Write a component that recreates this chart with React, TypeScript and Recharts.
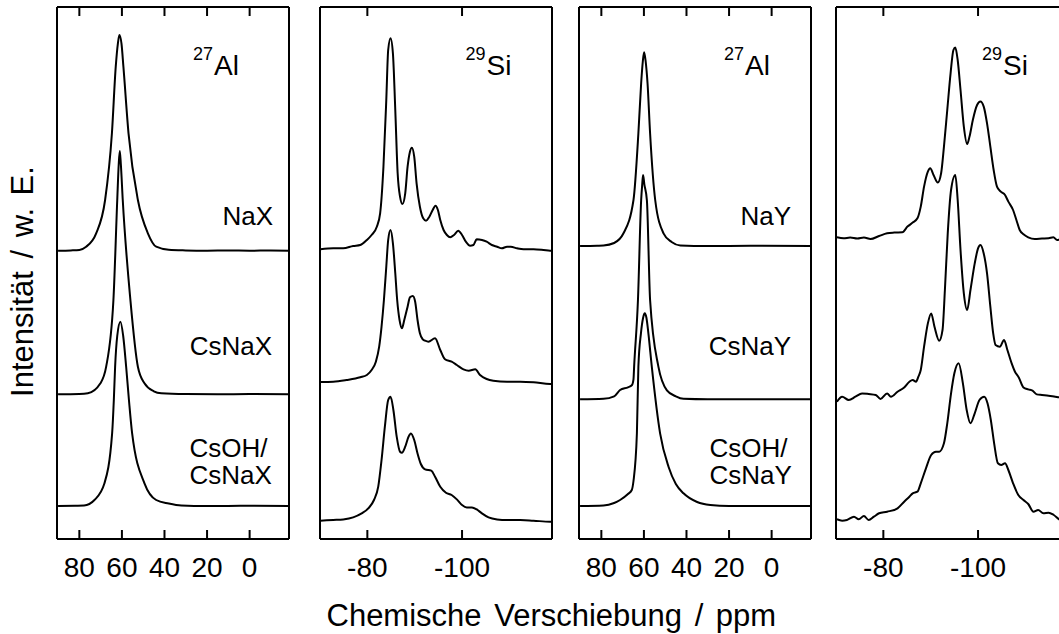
import { LineChart, Line, XAxis, YAxis } from "recharts"

type Pt = [number, number]

// [ppm, intensity above the trace's own baseline]

// 27Al, zeolite X series
const alNaX: Pt[] = [
  [90, 0], [84, 0.3], [80, 0.8], [76.8, 4], [72.1, 17.4], [67.9, 50.7], [64.7, 117.4], [62.9, 184],
  [61.9, 207], [61.2, 215.7], [60.2, 207], [59.3, 184], [56.9, 117.4], [52.5, 50.7], [47.8, 17.4],
  [43.9, 4], [38, 1], [30, 0.3], [20, 0], [10, 0.3], [0, 0], [-10, 0.2], [-19, 0],
]
const alCsNaX: Pt[] = [
  [90, 0], [80, 0.3], [76, 1], [70.1, 11], [67.4, 27.6], [64.0, 94], [62.2, 194], [61.5, 230],
  [61.0, 243.3], [60.5, 230], [59.6, 194], [56.0, 94], [52.5, 27.6], [49.4, 11], [45, 3], [41.5, 1],
  [30, 0.2], [15, 0], [0, 0.3], [-19, 0],
]
const alCsOHCsNaX: Pt[] = [
  [90, 0], [82, 0.3], [77.8, 0.5], [72.9, 6], [68.2, 22.7], [64.6, 72.7], [63.8, 106], [63.2, 139],
  [62.2, 170], [60.7, 184.3], [59.4, 170], [58.0, 139], [56.7, 106], [55.2, 72.7], [49.4, 22.7],
  [43.9, 6], [38, 2.5], [32.1, 0.5], [20, 0], [0, 0.2], [-19, 0],
]

// 29Si, zeolite X series
const siNaX: Pt[] = [
  [-70.1, 0.7], [-72.8, 1.7], [-74.9, 1.7], [-77.0, 4], [-78.5, 5], [-79.9, 10], [-80.9, 15],
  [-82.0, 23.3], [-82.7, 36.7], [-83.4, 83.3], [-84.0, 150], [-84.4, 200], [-84.9, 211.7],
  [-85.4, 196.7], [-85.9, 140], [-86.4, 76.7], [-86.9, 53.3], [-87.4, 46], [-88.0, 56.7],
  [-88.5, 83.3], [-89.0, 98.3], [-89.4, 102.3], [-89.9, 93.3], [-90.4, 66.7], [-91.1, 43.3],
  [-91.8, 31.7], [-92.4, 29.3], [-93.1, 33.3], [-93.8, 40], [-94.4, 44.3], [-94.9, 40], [-95.4, 30],
  [-96.1, 20], [-96.8, 15], [-97.5, 12.7], [-98.3, 15], [-99.2, 19.3], [-100.0, 15], [-100.8, 8.3],
  [-101.7, 4.3], [-102.4, 5], [-103.1, 10.7], [-104.2, 10], [-105.2, 8.3], [-106.3, 5], [-107.4, 3.3],
  [-108.4, 1.7], [-109.5, 3.3], [-110.3, 3.3], [-111.6, 1.7], [-113.0, 0.7], [-115.1, 0.7],
  [-117.2, 0], [-118.6, -0.7], [-119.5, -0.5],
]
const siCsNaX: Pt[] = [
  [-70.1, 0], [-72.8, 0.3], [-75.6, 2], [-78.5, 4.7], [-79.9, 7], [-80.9, 12], [-81.8, 20.3],
  [-82.5, 35.3], [-83.0, 55.3], [-83.5, 82], [-84.0, 115.3], [-84.4, 142], [-84.9, 152],
  [-85.4, 138.7], [-85.9, 108.7], [-86.3, 82], [-86.8, 62], [-87.3, 53.7], [-87.8, 62], [-88.5, 75.3],
  [-89.0, 84.7], [-89.6, 86], [-90.1, 80.3], [-90.6, 62], [-91.1, 48.7], [-91.7, 42.7], [-92.2, 41.3],
  [-92.9, 40.3], [-94.3, 43.7], [-95.4, 32], [-96.4, 22.7], [-97.8, 20.3], [-98.9, 17], [-100.3, 12.7],
  [-101.4, 11.3], [-102.8, 12.7], [-103.8, 7], [-105.2, 3], [-106.6, 1.3], [-109.5, 0.3],
  [-112.3, 0.3], [-115.1, -0.3], [-118.6, -2], [-119.5, -2],
]
const siCsOHCsNaX: Pt[] = [
  [-70.1, 0], [-72.8, 0.7], [-74.9, 1.3], [-77.0, 3.3], [-78.8, 7.3], [-80.2, 12.3], [-81.4, 20.7],
  [-82.3, 34], [-83.0, 60.7], [-83.7, 94], [-84.4, 120.7], [-84.9, 124], [-85.5, 110.7], [-86.2, 84],
  [-86.9, 69], [-87.3, 68], [-88.0, 74], [-88.7, 84], [-89.2, 87.3], [-89.9, 80.7], [-90.6, 67.3],
  [-91.3, 56.7], [-92.2, 51.3], [-93.5, 50], [-94.3, 44], [-95.4, 34], [-96.6, 28], [-97.8, 25.7],
  [-98.9, 21.3], [-100.0, 15.7], [-101.0, 13.3], [-102.1, 13.3], [-103.1, 11.3], [-104.2, 7.3],
  [-105.6, 3.3], [-107.4, 1.3], [-109.5, 0.7], [-112.3, 0.7], [-115.1, 0], [-118.6, -1], [-119.5, -1],
]

// 27Al, zeolite Y series
const alNaY: Pt[] = [
  [90, 0], [82, 0.3], [79, 0.5], [74, 3], [69.6, 12.7], [64.9, 46], [62.6, 112.7], [61.3, 162.7],
  [60.5, 185], [59.9, 193.7], [59.2, 185], [58.3, 162.7], [57.1, 112.7], [54.7, 46], [50.8, 12.7],
  [47, 4], [42.9, 0.5], [30, 0], [10, 0.2], [-19, 0],
]
const alCsNaY: Pt[] = [
  [90, 0], [79, 0.5], [74, 3], [71.2, 9.3], [67.5, 12], [65.7, 14], [64.9, 20], [64.6, 32.7],
  [62.8, 99.3], [61.3, 199], [60.8, 215], [60.4, 224.3], [59.8, 215], [58.6, 199], [57.1, 99.3],
  [53.2, 32.7], [49.2, 9], [45, 3], [41.4, 0.5], [30, 0], [-19, 0],
]
const alCsOHCsNaY: Pt[] = [
  [90, 0], [79, 0.5], [74, 3], [71.2, 6], [67.5, 12], [65.7, 16], [64.9, 25], [63.3, 72.7],
  [62.6, 139.3], [61.4, 172.7], [60.4, 188], [59.6, 192.7], [58.8, 188], [57.9, 172.7], [56.3, 139.3],
  [52.4, 72.7], [48.4, 39], [45, 22], [41.4, 12.7], [35, 4], [28.8, 1], [20, 0], [-19, 0],
]

// 29Si, zeolite Y series
const siNaY: Pt[] = [
  [-70.2, 1], [-71.6, 0], [-73.0, 0.7], [-74.5, -0.3], [-75.9, 0.7], [-77.3, -0.7], [-79.1, 2.3],
  [-80.8, 5], [-82.3, 5.7], [-84.0, 6], [-85.1, 11.7], [-86.2, 15.7], [-87.2, 20], [-87.9, 31.7],
  [-88.6, 51.7], [-89.4, 66.7], [-89.9, 70], [-90.6, 63.3], [-91.5, 55.7], [-92.2, 65], [-92.8, 91.7],
  [-93.5, 128.3], [-94.2, 165], [-94.8, 188.3], [-95.2, 190.7], [-95.7, 178.3], [-96.3, 148.3],
  [-97.0, 111.7], [-97.7, 94.3], [-98.2, 101.7], [-98.9, 118.3], [-99.8, 133.3], [-100.5, 136.7],
  [-101.2, 131.7], [-101.9, 115], [-102.6, 91.7], [-103.3, 68.3], [-104.0, 51.7], [-104.8, 46.7],
  [-105.7, 43.3], [-106.4, 36.7], [-107.4, 28.3], [-108.1, 18.3], [-108.8, 8.3], [-109.6, 4],
  [-110.6, 1], [-112.0, -0.7], [-113.5, -0.3], [-114.9, 0], [-115.9, 1], [-116.7, -1.7], [-117.4, -1],
  [-119.5, -0.5],
]
const siCsNaY: Pt[] = [
  [-70.2, -5], [-71.3, 0], [-72.7, -3.3], [-74.1, 0], [-75.5, 3.3], [-76.9, 2.7], [-78.4, 1.7],
  [-79.4, -2.3], [-80.8, 3.3], [-81.6, 0], [-83.0, 5], [-84.4, 9.3], [-85.5, 15], [-86.2, 16.7],
  [-86.9, 15], [-87.4, 20], [-87.9, 26.7], [-88.6, 50], [-89.4, 73.3], [-90.1, 83.3], [-90.8, 70],
  [-91.8, 56], [-92.5, 66.7], [-93.0, 106.7], [-93.6, 163.3], [-94.3, 206.7], [-95.2, 221.7],
  [-95.7, 196.7], [-96.3, 146.7], [-97.0, 103.3], [-97.7, 86.7], [-98.4, 106.7], [-99.3, 133.3],
  [-100.0, 148.3], [-100.5, 151.7], [-101.2, 143.3], [-101.9, 123.3], [-102.6, 90], [-103.2, 63.3],
  [-103.7, 51.7], [-104.6, 50], [-105.5, 56.7], [-106.2, 46.7], [-107.1, 33.3], [-107.8, 25],
  [-108.6, 19.3], [-109.6, 9.3], [-110.6, 7.3], [-111.5, 6], [-112.4, 2.3], [-113.5, 1.7],
  [-114.9, 1], [-116.3, 0], [-117.4, -0.7], [-119.5, -0.5],
]
const siCsOHCsNaY: Pt[] = [
  [-70.2, 0.7], [-71.3, -0.7], [-72.3, 0], [-73.8, 3.3], [-74.8, 0.7], [-75.9, 4], [-76.9, 0],
  [-78.0, 3.3], [-79.1, 6.7], [-80.8, 8.3], [-83.0, 11.7], [-84.4, 18.3], [-85.5, 23.3], [-86.2, 26.7],
  [-87.2, 28.3], [-87.9, 36.7], [-89.0, 51.7], [-90.1, 65], [-91.1, 68.3], [-91.8, 68.3],
  [-92.8, 76.7], [-93.5, 96.7], [-94.3, 126.7], [-95.0, 146.7], [-95.9, 156.7], [-96.8, 136.7],
  [-97.6, 110], [-98.4, 96.7], [-99.3, 106.7], [-100.3, 120], [-101.3, 123.3], [-102.0, 116.7],
  [-102.7, 100], [-103.4, 76.7], [-104.2, 56.7], [-104.9, 55], [-105.7, 56.7], [-106.4, 50],
  [-107.4, 36.7], [-108.5, 25], [-109.6, 20], [-110.6, 16], [-111.7, 8.3], [-112.7, 10],
  [-113.8, 6.7], [-114.9, 7.3], [-116.0, 5], [-117.4, 0], [-119.5, -1],
]

const alTicks = [80, 60, 40, 20, 0]
const siTicks = [-80, -100]

const FONT = "'Liberation Sans', Arial, Helvetica, sans-serif"
const PLOT_TOP = 7
const PLOT_H = 532
const PLOT_W = 232
const PAD = 20
const AXIS = 2 // thickness reserved for each frame axis

interface Trace {
  points: Pt[]
  offset: number
}

interface Panel {
  left: number
  domain: [number, number]
  ticks: number[]
  traces: Trace[]
}

const panels: Panel[] = [
  {
    left: 57,
    domain: [-18.5, 90.5],
    ticks: alTicks,
    traces: [
      { points: alNaX, offset: 288.3 },
      { points: alCsNaX, offset: 144.7 },
      { points: alCsOHCsNaX, offset: 33 },
    ],
  },
  {
    left: 320,
    domain: [-119, -70],
    ticks: siTicks,
    traces: [
      { points: siNaX, offset: 289 },
      { points: siCsNaX, offset: 157 },
      { points: siCsOHCsNaX, offset: 18.3 },
    ],
  },
  {
    left: 579,
    domain: [-18.5, 90.5],
    ticks: alTicks,
    traces: [
      { points: alNaY, offset: 293 },
      { points: alCsNaY, offset: 139.7 },
      { points: alCsOHCsNaY, offset: 33 },
    ],
  },
  {
    left: 835.5,
    domain: [-119, -70],
    ticks: siTicks,
    traces: [
      { points: siNaY, offset: 300.7 },
      { points: siCsNaY, offset: 142.3 },
      { points: siCsOHCsNaY, offset: 19 },
    ],
  },
]

// inward tick mark plus the number underneath
function BottomTick({ x, y, payload }: any) {
  return (
    <g>
      <line x1={x} x2={x} y1={y} y2={y - 9} stroke="#000" strokeWidth={2} />
      <text x={x} y={y + 37.5} textAnchor="middle" fontSize={28} fontFamily={FONT} fill="#000">
        {payload.value}
      </text>
    </g>
  )
}

function TopTick({ x, y }: any) {
  return <line x1={x} x2={x} y1={y} y2={y + 9} stroke="#000" strokeWidth={2} />
}

const frame = { stroke: "#000", strokeWidth: 2 }

function SpectrumPanel({ panel }: { panel: Panel }) {
  return (
    <div style={{ position: "absolute", left: panel.left - PAD, top: 0 }}>
      <LineChart
        width={PLOT_W + 2 * PAD}
        height={634}
        margin={{
          top: PLOT_TOP - AXIS,
          right: PAD - AXIS,
          bottom: 634 - PLOT_TOP - PLOT_H - AXIS,
          left: PAD - AXIS,
        }}
      >
        <XAxis
          xAxisId="bottom"
          dataKey="ppm"
          type="number"
          domain={panel.domain}
          reversed
          allowDataOverflow
          ticks={panel.ticks}
          interval={0}
          height={AXIS}
          tickSize={0}
          tickMargin={0}
          tickLine={false}
          axisLine={frame}
          tick={<BottomTick />}
        />
        <XAxis
          xAxisId="top"
          orientation="top"
          dataKey="ppm"
          type="number"
          domain={panel.domain}
          reversed
          allowDataOverflow
          ticks={panel.ticks}
          interval={0}
          height={AXIS}
          tickSize={0}
          tickMargin={0}
          tickLine={false}
          axisLine={frame}
          tick={<TopTick />}
        />
        <YAxis
          yAxisId="left"
          type="number"
          domain={[0, PLOT_H]}
          allowDataOverflow
          width={AXIS}
          tick={false}
          tickLine={false}
          axisLine={frame}
        />
        <YAxis
          yAxisId="right"
          orientation="right"
          type="number"
          domain={[0, PLOT_H]}
          allowDataOverflow
          width={AXIS}
          tick={false}
          tickLine={false}
          axisLine={frame}
        />
        {panel.traces.map((t, i) => (
          <Line
            key={i}
            xAxisId="bottom"
            yAxisId="left"
            data={t.points.map(([ppm, v]) => ({ ppm, y: v + t.offset }))}
            dataKey="y"
            type="monotone"
            dot={false}
            activeDot={false}
            stroke="#000"
            strokeWidth={2}
            strokeLinejoin="round"
            isAnimationActive={false}
          />
        ))}
      </LineChart>
    </div>
  )
}

function Nucleus({ x, mass, symbol }: { x: number; mass: string; symbol: string }) {
  return (
    <text x={x} y={75} fontFamily={FONT} fill="#000">
      <tspan fontSize={18} dy={-15}>{mass}</tspan>
      <tspan fontSize={28} dy={15} dx={1}>{symbol}</tspan>
    </text>
  )
}

function Annotations() {
  const label = { fontFamily: FONT, fontSize: 26, fill: "#000" }
  return (
    <svg width={1059} height={634} style={{ position: "absolute", left: 0, top: 0, pointerEvents: "none" }}>
      <Nucleus x={193} mass="27" symbol="Al" />
      <Nucleus x={465.5} mass="29" symbol="Si" />
      <Nucleus x={724} mass="27" symbol="Al" />
      <Nucleus x={982} mass="29" symbol="Si" />

      <text {...label} x={273} y={225} textAnchor="end">NaX</text>
      <text {...label} x={272} y={355} textAnchor="end">CsNaX</text>
      <text {...label} x={189.5} y={456.5}>CsOH/</text>
      <text {...label} x={189.5} y={483.5}>CsNaX</text>

      <text {...label} x={791} y={225} textAnchor="end">NaY</text>
      <text {...label} x={791} y={355} textAnchor="end">CsNaY</text>
      <text {...label} x={709.5} y={456.5}>CsOH/</text>
      <text {...label} x={709.5} y={483.5}>CsNaY</text>

      <text
        x={33}
        y={281.5}
        transform="rotate(-90 33 281.5)"
        textAnchor="middle"
        fontFamily={FONT}
        fontSize={31}
        wordSpacing={4}
        fill="#000"
      >
        Intensität / w. E.
      </text>
      <text x={326.5} y={625.5} fontFamily={FONT} fontSize={31} wordSpacing={4} fill="#000">
        Chemische Verschiebung / ppm
      </text>
    </svg>
  )
}

export default function App() {
  return (
    <div
      style={{
        position: "fixed",
        left: 0,
        top: 0,
        width: 1059,
        height: 634,
        overflow: "hidden",
        background: "#fff",
      }}
    >
      {panels.map((p, i) => (
        <SpectrumPanel key={i} panel={p} />
      ))}
      <Annotations />
    </div>
  )
}
